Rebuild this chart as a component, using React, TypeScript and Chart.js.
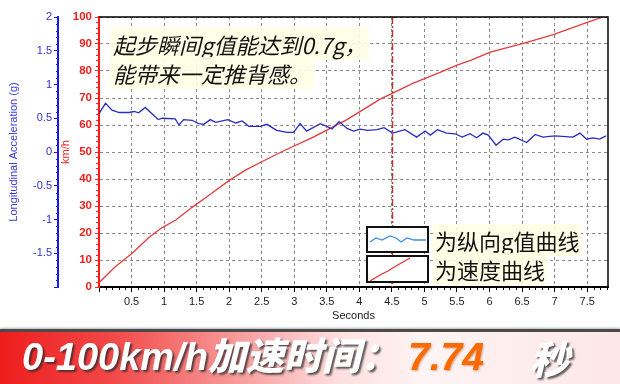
import React, { useEffect, useRef } from "react";
import { Chart, registerables } from "chart.js";

Chart.register(...registerables);

// Speed curve (km/h) vs seconds
const speedTimes = [0, 0.25, 0.51, 0.77, 0.97, 1.18, 1.43, 1.69, 1.99, 2.25, 2.5, 2.8, 3.3, 3.81, 4.32, 4.83, 5.24, 5.5, 5.72, 6.01, 6.52, 6.98, 7.49, 7.74];
const speedValues = [1.6, 7.5, 12.5, 18.4, 22, 24.8, 29.5, 34, 39.3, 43.3, 46.4, 50, 55.6, 62, 69.6, 75.5, 79.5, 82.2, 84, 87, 90.2, 93.5, 97.9, 100];

// Longitudinal acceleration (g) vs seconds
const gTimes = [0, 0.1, 0.2, 0.31, 0.46, 0.54, 0.61, 0.71, 0.91, 0.97, 1.17, 1.23, 1.3, 1.43, 1.53, 1.61, 1.71, 1.79, 1.98, 2.1, 2.2, 2.3, 2.48, 2.58, 2.73, 2.89, 2.99, 3.09, 3.19, 3.4, 3.5, 3.58, 3.69, 3.81, 3.91, 4.01, 4.13, 4.27, 4.38, 4.51, 4.7, 4.88, 5.01, 5.09, 5.2, 5.34, 5.47, 5.58, 5.7, 5.8, 5.9, 5.98, 6.1, 6.21, 6.29, 6.39, 6.57, 6.7, 6.82, 7.0, 7.28, 7.39, 7.49, 7.59, 7.69, 7.79];
const gValues = [0.57, 0.72, 0.62, 0.585, 0.585, 0.6, 0.58, 0.66, 0.48, 0.5, 0.49, 0.4, 0.48, 0.47, 0.42, 0.41, 0.48, 0.44, 0.48, 0.43, 0.46, 0.38, 0.38, 0.41, 0.32, 0.29, 0.29, 0.42, 0.31, 0.42, 0.38, 0.34, 0.45, 0.35, 0.31, 0.34, 0.32, 0.33, 0.36, 0.28, 0.33, 0.22, 0.31, 0.25, 0.33, 0.28, 0.27, 0.22, 0.27, 0.21, 0.28, 0.25, 0.1, 0.19, 0.18, 0.22, 0.14, 0.26, 0.22, 0.24, 0.22, 0.28, 0.19, 0.21, 0.19, 0.24];

const xMin = 0;
const xMax = 7.82;
const markerTime = 4.5;

const FONT = "'Liberation Sans', Arial, sans-serif";
const CJK = "'Noto Sans CJK SC', 'Noto Sans', sans-serif";

const decorPlugin = {
  id: "decor",
  afterDraw(chart: any) {
    const { ctx, chartArea, scales } = chart;
    const x = scales.x;
    const yV = scales.yV;
    const yG = scales.yG;
    ctx.save();
    ctx.lineWidth = 1;
    // x minor ticks
    ctx.strokeStyle = "#000";
    for (let i = 1; i <= 78; i++) {
      if (i % 5 === 0) continue;
      const px = Math.round(x.getPixelForValue(i / 10)) + 0.5;
      ctx.beginPath();
      ctx.moveTo(px, chartArea.bottom + 1);
      ctx.lineTo(px, chartArea.bottom + 3);
      ctx.stroke();
    }
    // red axis minor ticks
    ctx.strokeStyle = "#ff2020";
    for (let v = 2; v < 100; v += 2) {
      if (v % 10 === 0) continue;
      const py = Math.round(yV.getPixelForValue(v)) + 0.5;
      ctx.beginPath();
      ctx.moveTo(yV.right - 3, py);
      ctx.lineTo(yV.right, py);
      ctx.stroke();
    }
    // blue axis minor ticks
    ctx.strokeStyle = "#1a1aee";
    for (let i = -19; i < 20; i++) {
      if (i % 5 === 0) continue;
      const py = Math.round(yG.getPixelForValue(i / 10)) + 0.5;
      ctx.beginPath();
      ctx.moveTo(yG.right - 2, py);
      ctx.lineTo(yG.right, py);
      ctx.stroke();
    }
    // marker line
    const mx = Math.round(x.getPixelForValue(markerTime)) + 0.5;
    ctx.strokeStyle = "#b03a3a";
    ctx.lineWidth = 1.5;
    ctx.setLineDash([7, 2, 2, 2]);
    ctx.beginPath();
    ctx.moveTo(mx, chartArea.top);
    ctx.lineTo(mx, chartArea.bottom);
    ctx.stroke();
    ctx.setLineDash([]);
    // top / right frame
    ctx.strokeStyle = "#000";
    ctx.lineWidth = 1.5;
    ctx.beginPath();
    ctx.moveTo(chartArea.left, chartArea.top);
    ctx.lineTo(chartArea.right, chartArea.top);
    ctx.lineTo(chartArea.right, chartArea.bottom);
    ctx.stroke();
    ctx.restore();
  },
};

function ChartCanvas() {
  const ref = useRef<HTMLCanvasElement | null>(null);
  useEffect(() => {
    if (!ref.current) return;
    const chart = new Chart(ref.current, {
      type: "line",
      data: {
        datasets: [
          {
            label: "g",
            data: gTimes.map((t, i) => ({ x: t, y: gValues[i] })),
            yAxisID: "yG",
            borderColor: "#2a2ac4",
            borderWidth: 1.3,
            pointRadius: 0,
            tension: 0,
          },
          {
            label: "speed",
            data: speedTimes.map((t, i) => ({ x: t, y: speedValues[i] })),
            yAxisID: "yV",
            borderColor: "#e23c3c",
            borderWidth: 1.3,
            pointRadius: 0,
            tension: 0,
          },
        ],
      },
      options: {
        animation: false,
        responsive: false,
        maintainAspectRatio: false,
        devicePixelRatio: 1,
        layout: { padding: { left: 0, right: 12, top: 17, bottom: 0 } },
        plugins: { legend: { display: false }, tooltip: { enabled: false } },
        scales: {
          x: {
            type: "linear",
            min: xMin,
            max: xMax,
            position: "bottom",
            ticks: {
              stepSize: 0.5,
              includeBounds: false,
              autoSkip: false,
              maxRotation: 0,
              padding: 3,
              color: "#222",
              font: { family: FONT, size: 11 },
              callback: (v: any) => (v === 0 ? "" : String(v)),
            },
            grid: { color: "#8a8a8a", lineWidth: 1, tickLength: 5, tickColor: "#000", tickWidth: 1 },
            border: { color: "#000", width: 2, dash: [3, 3] },
            title: { display: true, text: "Seconds", color: "#222", font: { family: FONT, size: 11 }, padding: { top: 2, bottom: 7 } },
            afterFit: (s: any) => {
              s.height = 43;
            },
          },
          yV: {
            type: "linear",
            position: "left",
            weight: 0,
            min: 0,
            max: 100,
            ticks: { stepSize: 10, padding: 3, color: "#e82020", font: { family: FONT, size: 11.5, weight: "bold" } },
            grid: { color: "#8a8a8a", lineWidth: 1, tickLength: 4, tickColor: "#ff2020" },
            border: { color: "#ff1a1a", width: 2, dash: [3, 3] },
            title: { display: true, text: "km/h", color: "#e82020", font: { family: FONT, size: 11 }, padding: { top: 1, bottom: 0 } },
            afterFit: (s: any) => {
              s.width = 41;
            },
          },
          yG: {
            type: "linear",
            position: "left",
            weight: 1,
            min: -2,
            max: 2,
            ticks: {
              stepSize: 0.5,
              padding: 2,
              color: "#3030d0",
              font: { family: FONT, size: 11 },
              callback: (v: any) => (v === -2 ? "" : String(v)),
            },
            grid: { drawOnChartArea: false, tickLength: 4, tickColor: "#1a1aee" },
            border: { color: "#1a1aee", width: 2 },
            title: { display: true, text: "Longitudinal Acceleration (g)", color: "#3a3ad8", font: { family: FONT, size: 11 }, padding: { top: 7, bottom: 0 } },
            afterFit: (s: any) => {
              s.width = 58;
            },
          },
        },
      },
      plugins: [decorPlugin],
    } as any);
    return () => chart.destroy();
  }, []);
  return <canvas ref={ref} width={620} height={330} style={{ position: "absolute", left: 0, top: 0, width: 620, height: 330 }} />;
}

export default function App() {
  const hl = "rgba(255,255,228,0.88)";
  return (
    <div style={{ position: "absolute", left: 0, top: 0, width: 620, height: 384, background: "#fff", overflow: "hidden" }}>
      <ChartCanvas />
      {/* annotation */}
      <div style={{ position: "absolute", left: 110, top: 30, fontFamily: CJK, fontSize: 22, fontStyle: "italic", lineHeight: "29px", color: "#111", whiteSpace: "nowrap" }}>
        <div><span style={{ background: hl, padding: "0 3px" }}>起步瞬间g值能达到0.7g，</span></div>
        <div><span style={{ background: hl, padding: "0 3px" }}>能带来一定推背感。</span></div>
      </div>
      {/* legend */}
      <svg width={620} height={330} style={{ position: "absolute", left: 0, top: 0 }}>
        <rect x={367} y={227} width={61} height={25} fill="#fff" stroke="#111" strokeWidth={2} />
        <polyline points="370,242 376,238 382,240 390,236 396,238 401,242 407,238 414,240 426,240" fill="none" stroke="#3d8ee6" strokeWidth={1.3} />
        <rect x={367} y={256} width={61} height={26} fill="#fff" stroke="#111" strokeWidth={2} />
        <polyline points="370,281 380,275 388,271 396,266 403,262 410,258" fill="none" stroke="#e23030" strokeWidth={1.2} />
      </svg>
      <div style={{ position: "absolute", left: 433, top: 226, fontFamily: CJK, fontSize: 22, lineHeight: "29px", color: "#111", whiteSpace: "nowrap" }}>
        <div><span style={{ background: hl, padding: "0 2px" }}>为纵向g值曲线</span></div>
        <div><span style={{ background: hl, padding: "0 2px" }}>为速度曲线</span></div>
      </div>
      {/* banner */}
      <div style={{ position: "absolute", left: 0, top: 329, width: 620, height: 55, borderTop: "3px solid #4a4a4a", boxShadow: "0 -1px 2px rgba(0,0,0,0.3)", background: "linear-gradient(to right, #ee1d1d 0%, #f24848 18%, #f79a9a 38%, #fde0e0 55%, #fff4f4 68%, #fde6e6 100%)" }} />
      <div style={{ position: "absolute", left: 22, top: 335, fontFamily: "'Liberation Sans', " + CJK, fontWeight: 900, fontStyle: "italic", fontSize: 38, lineHeight: "44px", whiteSpace: "nowrap", textShadow: "2px 2px 2px rgba(40,40,40,0.75)" }}>
        <span style={{ color: "#fff" }}>0-100km/h加速时间：</span>
      </div>
      <div style={{ position: "absolute", left: 408, top: 335, fontFamily: "'Liberation Sans', Arial, sans-serif", fontWeight: 900, fontStyle: "italic", fontSize: 39, lineHeight: "44px", whiteSpace: "nowrap", color: "#ff6a00", textShadow: "1px 1px 2px rgba(120,60,0,0.4)" }}>7.74</div>
      <div style={{ position: "absolute", left: 530, top: 335, fontFamily: CJK, fontWeight: 900, fontStyle: "italic", fontSize: 39, lineHeight: "44px", whiteSpace: "nowrap", color: "#fff", textShadow: "2px 2px 2px rgba(40,40,40,0.75)" }}>秒</div>
    </div>
  );
}
